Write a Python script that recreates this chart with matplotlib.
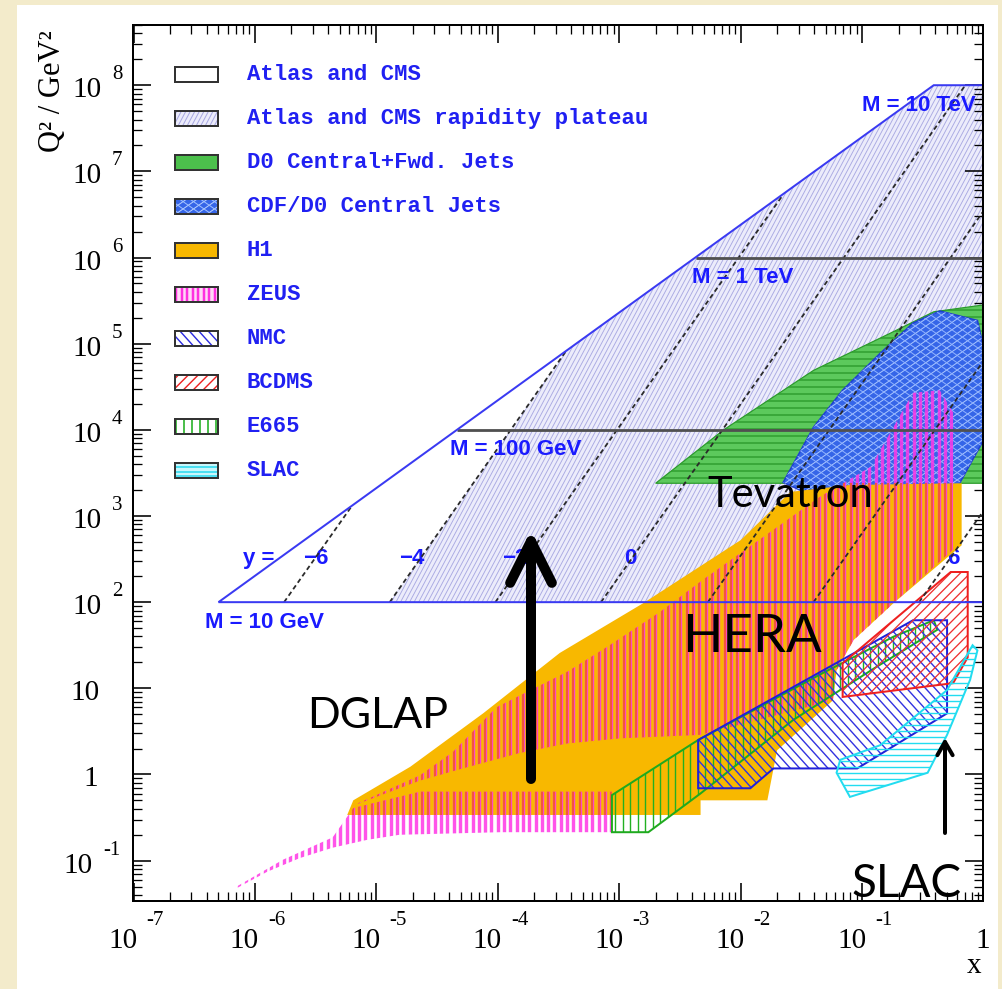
import numpy as np
import matplotlib
matplotlib.use('Agg')
import matplotlib.pyplot as plt
from matplotlib.patches import Polygon, Rectangle, FancyArrowPatch, ArrowStyle
from matplotlib.collections import LineCollection
from matplotlib.transforms import IdentityTransform, blended_transform_factory, offset_copy
from matplotlib.ticker import LogLocator, NullFormatter

# ---------------- data (log10 x , log10 Q^2) ----------------
lhc_lx = [-6.30, -0.41, 0.0, 0.0]
lhc_ly = [2.0, 8.0, 8.0, 2.0]

plateau_lx = [-4.89, -3.43, -0.41, 0.0, 0.0, -1.40]
plateau_ly = [2.0, 4.93, 8.0, 8.0, 4.80, 2.0]

rap_y = [-6, -4, -2, 0, 2, 4, 6]
rap_lx0 = [-5.76, -4.89, -4.02, -3.15, -2.27, -1.40, -0.53]
rap_lx1 = [-5.20, -3.43, -1.65, -0.15, 0.0, 0.0, 0.0]
rap_ly1 = [3.12, 4.93, 6.73, 8.0, 6.54, 4.80, 3.06]
rap_lbl = ['\u22126', '\u22124', '\u22122', '0', '2', '4', '6']
rap_lbl_lx = [-5.50, -4.71, -3.86, -2.91, -2.06, -1.20, -0.25]
rap_lbl_ly = 2.51

mass_ly = [4.0, 6.0]
mass_lx0 = [-4.34, -2.37]
mass_lbl = ['M = 10 GeV', 'M = 100 GeV', 'M = 1 TeV', 'M = 10 TeV']
mass_lbl_lx = [-6.41, -4.39, -2.40, -1.00]
mass_lbl_ly = [1.76, 3.77, 5.77, 7.76]

d0_lx = [-2.70, -2.14, -1.40, -0.77, -0.41, 0.0, 0.0]
d0_ly = [3.38, 4.00, 4.69, 5.12, 5.37, 5.45, 3.38]

cdf_lx = [-1.65, -1.40, -1.16, -0.85, -0.58, -0.36, -0.05, 0.0, 0.0, -0.24, -1.51]
cdf_ly = [3.39, 4.03, 4.46, 4.89, 5.24, 5.38, 5.27, 4.96, 3.88, 3.27, 3.30]

h1_lx = [-5.24, -5.19, -4.72, -4.12, -3.49, -2.80, -2.00, -1.59, -1.10, -0.18,
         -0.18, -0.74, -1.07, -1.21, -1.24, -1.70, -1.78, -2.33, -2.33]
h1_ly = [-0.47, -0.30, 0.09, 0.71, 1.41, 1.99, 2.72, 3.28, 3.36, 3.38,
         2.66, 1.99, 1.56, 1.21, 0.86, 0.28, -0.30, -0.30, -0.47]

zeusA_lx = [-5.19, -4.64, -4.37, -4.01, -3.43, -3.10, -2.66, -2.31, -1.62, -1.35,
            -0.93, -0.58, -0.36, -0.25, -0.25, -0.74, -1.07, -1.21, -1.24, -2.33,
            -2.99, -3.43, -3.82, -4.29, -4.64]
zeusA_ly = [-0.36, -0.01, 0.26, 0.78, 1.19, 1.48, 1.89, 2.26, 2.95, 3.22,
            3.57, 4.43, 4.46, 4.20, 2.61, 1.99, 1.56, 1.21, 0.86, 0.46,
            0.42, 0.36, 0.25, 0.07, -0.07]
zeusB_lx = [-6.15, -5.90, -5.63, -5.36, -5.08, -4.81, -3.98, -3.06, -3.06, -4.64,
            -5.19, -5.36, -5.77, -6.15]
zeusB_ly = [-1.32, -1.13, -0.97, -0.85, -0.76, -0.70, -0.67, -0.67, -0.20, -0.20,
            -0.39, -0.73, -0.99, -1.30]

nmc_lx = [-2.35, -0.58, -0.30, -0.30, -1.04, -1.73, -1.92, -2.35]
nmc_ly = [0.40, 1.79, 1.79, 0.71, 0.07, 0.07, -0.16, -0.16]

bcdms_lx = [-1.16, -0.27, -0.13, -0.13, -0.25, -1.16]
bcdms_ly = [1.29, 2.35, 2.35, 1.36, 1.06, 0.90]

e665_lx = [-3.06, -3.06, -2.35, -1.32, -0.74, -0.41, -0.38, -0.88, -1.57, -2.33, -2.76]
e665_ly = [-0.67, -0.24, 0.40, 1.18, 1.60, 1.79, 1.68, 1.25, 0.63, -0.22, -0.67]

slac_lx = [-1.21, -1.10, -0.46, -0.30, -0.11, -0.05, -0.09, -0.30, -0.85, -1.18]
slac_ly = [0.02, -0.26, 0.02, 0.46, 1.10, 1.44, 1.50, 0.98, 0.34, 0.17]

legend_labels = ['Atlas and CMS', 'Atlas and CMS rapidity plateau', 'D0 Central+Fwd. Jets',
                 'CDF/D0 Central Jets', 'H1', 'ZEUS', 'NMC', 'BCDMS', 'E665', 'SLAC']

x_exponents = [-7, -6, -5, -4, -3, -2, -1]
y_exponents = [-1, 0, 1, 2, 3, 4, 5, 6, 7, 8]

# ---------------- figure ----------------
W, H = 1003, 989
PX = 0.72  # points per pixel at dpi 100
fig = plt.figure(figsize=(W / 100, H / 100), dpi=100, facecolor='#f3ebcb')
fig.add_artist(Rectangle((17 / W, 0), (998 - 17) / W, (989 - 5) / H, transform=fig.transFigure,
                         facecolor='white', edgecolor='none', zorder=-10))

ax = fig.add_axes([133.5 / W, (H - 901) / H, 850 / W, 876 / H])
ax.set_xscale('log')
ax.set_yscale('log')
ax.set_xlim(1e-7, 1)
ax.set_ylim(0.034, 5e8)
ax.set_facecolor('white')
for s in ax.spines.values():
    s.set_linewidth(2 * PX)
    s.set_zorder(20)
for axis in (ax.xaxis, ax.yaxis):
    axis.set_major_locator(LogLocator(base=10, numticks=30))
    axis.set_minor_locator(LogLocator(base=10, subs=np.arange(2, 10), numticks=30))
    axis.set_major_formatter(NullFormatter())
    axis.set_minor_formatter(NullFormatter())
ax.tick_params(which='both', direction='in', top=True, right=True, zorder=20)
ax.tick_params(which='major', length=18 * PX, width=1.6 * PX)
ax.tick_params(which='minor', length=9 * PX, width=1.3 * PX)


def poly(lx, ly):
    return np.column_stack([10.0 ** np.asarray(lx), 10.0 ** np.asarray(ly)])


def add_lines(axis, clip, angle, spacing, color, lw_px, z, yspan=None, alpha=1.0):
    path = clip.get_path()
    disp = clip.get_transform().transform(path.vertices)
    x0, y0 = disp.min(axis=0)
    x1, y1 = disp.max(axis=0)
    th = np.deg2rad(angle)
    d = np.array([np.cos(th), np.sin(th)])
    n = np.array([-np.sin(th), np.cos(th)])
    corners = np.array([[x0, y0], [x0, y1], [x1, y0], [x1, y1]])
    pr = corners @ n
    cs = np.arange(np.floor(pr.min() / spacing) * spacing, pr.max() + spacing, spacing)
    L = np.hypot(x1 - x0, y1 - y0) + 20
    ctr = np.array([(x0 + x1) / 2, (y0 + y1) / 2])
    segs = []
    for c in cs:
        b = ctr + (c - ctr @ n) * n
        if yspan is not None:
            segs.append([(b[0], yspan[0]), (b[0], yspan[1])])
        else:
            segs.append([b - L * d, b + L * d])
    lc = LineCollection(segs, colors=color, linewidths=lw_px * PX, transform=IdentityTransform(),
                        zorder=z, alpha=alpha, capstyle='butt')
    axis.add_collection(lc, autolim=False)
    lc.set_clip_path(clip)
    return lc


# LHC rapidity plateau (lavender)
plat = Polygon(poly(plateau_lx, plateau_ly), closed=True, facecolor='#ececfb', edgecolor='none', zorder=1)
ax.add_patch(plat)
add_lines(ax, plat, 62, 4.0, '#a9a9e2', 0.9, 1.1)

# rapidity labels (underneath HERA region)
for lbl, lx in zip(rap_lbl, rap_lbl_lx):
    ax.text(10 ** lx, 10 ** rap_lbl_ly, lbl, color='#1a1aff', fontsize=16, fontweight='bold',
            family='Liberation Sans', ha='center', va='center', zorder=1.5)
ax.text(10 ** -5.97, 10 ** rap_lbl_ly, 'y =', color='#1a1aff', fontsize=16, fontweight='bold',
        family='Liberation Sans', ha='center', va='center', zorder=1.5)

# D0 central + forward jets
d0 = Polygon(poly(d0_lx, d0_ly), closed=True, facecolor='#5cc95c', edgecolor='#2a9a2a',
             linewidth=1.2 * PX, zorder=2)
ax.add_patch(d0)
add_lines(ax, d0, 0, 7.0, '#2f9e2f', 1.5, 2.05)

# CDF/D0 central jets
cdf = Polygon(poly(cdf_lx, cdf_ly), closed=True, facecolor='#3565e8', edgecolor='#1f3fd0',
              linewidth=1.5 * PX, zorder=2.2)
ax.add_patch(cdf)
add_lines(ax, cdf, 35, 6.0, '#a9c6ff', 1.0, 2.25)
add_lines(ax, cdf, -35, 6.0, '#8fb2ff', 1.0, 2.26)

# H1
h1 = Polygon(poly(h1_lx, h1_ly), closed=True, facecolor='#f8b800', edgecolor='none', zorder=3)
ax.add_patch(h1)

# ZEUS (vertical stripes)
core_span = ax.transData.transform([(1e-3, 10 ** -0.47), (1e-3, 10 ** 3.38)])[:, 1]
for zx, zy in ((zeusA_lx, zeusA_ly), (zeusB_lx, zeusB_ly)):
    zp = Polygon(poly(zx, zy), closed=True, fill=False, edgecolor='none', zorder=3.05)
    ax.add_patch(zp)
    add_lines(ax, zp, 90, 6.3, '#ff36e6', 3.4, 3.1, alpha=0.85)
    add_lines(ax, zp, 90, 6.3, '#f4582c', 1.8, 3.2, yspan=core_span)

# fixed target experiments
e665 = Polygon(poly(e665_lx, e665_ly), closed=True, fill=False, edgecolor='#1faa1f',
               linewidth=2 * PX, zorder=4.1)
ax.add_patch(e665)
add_lines(ax, e665, 90, 7.5, '#22b022', 1.4, 4.0)

nmc = Polygon(poly(nmc_lx, nmc_ly), closed=True, fill=False, edgecolor='#2020d8',
              linewidth=2 * PX, zorder=4.3)
ax.add_patch(nmc)
add_lines(ax, nmc, -48, 7.0, '#3333e0', 1.4, 4.2)

bcdms = Polygon(poly(bcdms_lx, bcdms_ly), closed=True, fill=False, edgecolor='#ee2020',
                linewidth=2 * PX, zorder=4.5)
ax.add_patch(bcdms)
add_lines(ax, bcdms, 45, 7.0, '#ee3030', 1.3, 4.4)

slac = Polygon(poly(slac_lx, slac_ly), closed=True, fill=False, edgecolor='#22dcf0',
               linewidth=2 * PX, zorder=4.7)
ax.add_patch(slac)
add_lines(ax, slac, 0, 6.0, '#22dcf0', 1.4, 4.6)

# rapidity dashed lines
for lx0, lx1, ly1 in zip(rap_lx0, rap_lx1, rap_ly1):
    ax.plot([10 ** lx0, 10 ** lx1], [1e2, 10 ** ly1], color='#2a2a2a', lw=1.8 * PX,
            dashes=(2.6, 1.8), zorder=5)

# mass lines
for ly, lx0 in zip(mass_ly, mass_lx0):
    ax.plot([10 ** lx0, 1], [10 ** ly, 10 ** ly], color='#505050', lw=2.8 * PX, zorder=5.1,
            solid_capstyle='butt')

lhc = Polygon(poly(lhc_lx, lhc_ly), closed=True, fill=False, edgecolor='#3a3af2',
              linewidth=2 * PX, zorder=5.2)
ax.add_patch(lhc)

for lbl, lx, ly in zip(mass_lbl, mass_lbl_lx, mass_lbl_ly):
    ax.text(10 ** lx, 10 ** ly, lbl, color='#1a1aff', fontsize=16, fontweight='bold',
            family='Liberation Sans', ha='left', va='center', zorder=6)

# ---------------- tick labels (ROOT style) ----------------
serif = 'Liberation Serif'
bx = blended_transform_factory(ax.transData, ax.transAxes)
for e in x_exponents:
    ax.text(10.0 ** e, 0, '10', transform=offset_copy(bx, fig=fig, x=4, y=-47, units='dots'),
            ha='right', va='baseline', fontsize=21, family=serif, clip_on=False)
    ax.text(10.0 ** e, 0, str(e), transform=offset_copy(bx, fig=fig, x=13, y=-24, units='dots'),
            ha='left', va='baseline', fontsize=15, family=serif, clip_on=False)
ax.text(1.0, 0, '1', transform=offset_copy(bx, fig=fig, x=-1, y=-47, units='dots'),
        ha='center', va='baseline', fontsize=21, family=serif, clip_on=False)

by = blended_transform_factory(ax.transAxes, ax.transData)
for e in y_exponents:
    if e == 0:
        ax.text(0, 1.0, '1', transform=offset_copy(by, fig=fig, x=-35.5, y=-12, units='dots'),
                ha='right', va='baseline', fontsize=21, family=serif, clip_on=False)
    elif e == 1:
        ax.text(0, 10.0, '10', transform=offset_copy(by, fig=fig, x=-33.5, y=-12, units='dots'),
                ha='right', va='baseline', fontsize=21, family=serif, clip_on=False)
    else:
        sh = -9 if e < 0 else 0
        ax.text(0, 10.0 ** e, '10', transform=offset_copy(by, fig=fig, x=-31.5 + sh, y=-12, units='dots'),
                ha='right', va='baseline', fontsize=21, family=serif, clip_on=False)
        ax.text(0, 10.0 ** e, str(e), transform=offset_copy(by, fig=fig, x=-21.5 + sh, y=6, units='dots'),
                ha='left', va='baseline', fontsize=15, family=serif, clip_on=False)

# ---------------- overlay (pixel coordinates) ----------------
ov = fig.add_axes([0, 0, 1, 1], zorder=5)
ov.set_xlim(0, W)
ov.set_ylim(H, 0)
ov.patch.set_visible(False)
ov.axis('off')

ov.text(53, 91, 'Q\u00b2 / GeV\u00b2', rotation=90, ha='center', va='center', fontsize=22, family=serif)
ov.text(974, 973, 'x', ha='center', va='baseline', fontsize=21, family=serif)

# legend
for i, lbl in enumerate(legend_labels):
    yc = 74.5 + 44 * i
    face = ['white', '#ececfb', '#4cc04c', '#3565e8', '#f8b800', '#ffd8f6', 'white', 'white', 'white', '#c8f6fb'][i]
    r = Rectangle((175, yc - 7.5), 43, 15, facecolor=face, edgecolor='none', zorder=1)
    ov.add_patch(r)
    if i == 1:
        add_lines(ov, r, 62, 4.0, '#a8a8e2', 1.0, 1.1)
    elif i == 3:
        add_lines(ov, r, 35, 6.0, '#b8d0ff', 1.0, 1.1)
        add_lines(ov, r, -35, 6.0, '#a0c0ff', 1.0, 1.1)
    elif i == 5:
        add_lines(ov, r, 90, 5.5, '#ff30e0', 2.5, 1.1)
    elif i == 6:
        add_lines(ov, r, -48, 7.0, '#2a2ae0', 1.4, 1.1)
    elif i == 7:
        add_lines(ov, r, 45, 7.0, '#ee2020', 1.4, 1.1)
    elif i == 8:
        add_lines(ov, r, 90, 8.0, '#22b022', 1.6, 1.1)
    elif i == 9:
        add_lines(ov, r, 0, 4.5, '#22d8ee', 1.5, 1.1)
    ov.add_patch(Rectangle((175, yc - 7.5), 43, 15, facecolor='none', edgecolor='#333333',
                           linewidth=2 * PX, zorder=1.2))
    ov.text(247, yc, lbl, color='#2020f2', fontsize=16, fontweight='bold', family='Liberation Mono',
            ha='left', va='center', zorder=2)

# annotations
ann = dict(color='black', family='Lato', ha='left', va='baseline', zorder=3)
ov.text(707, 507, 'Tevatron', fontsize=30, **ann)
ov.text(682, 652, 'HERA', fontsize=38, **ann)
ov.text(307, 728, 'DGLAP', fontsize=31, **ann)
ov.text(852, 897, 'SLAC', fontsize=33, **ann)

big = FancyArrowPatch((531, 779), (531, 530),
                      arrowstyle=ArrowStyle('->', head_length=30, head_width=15),
                      linewidth=10 * PX, color='black', shrinkA=0, shrinkB=0,
                      capstyle='round', joinstyle='round', zorder=4)
ov.add_patch(big)
small = FancyArrowPatch((945, 833), (945, 738),
                        arrowstyle=ArrowStyle('->', head_length=9.5, head_width=5.5),
                        linewidth=4 * PX, color='black', shrinkA=0, shrinkB=0,
                        capstyle='round', joinstyle='round', zorder=4)
ov.add_patch(small)

fig.savefig('out.png', dpi=100)
